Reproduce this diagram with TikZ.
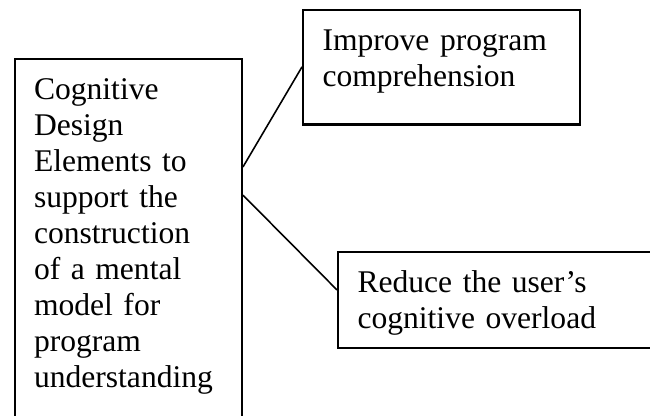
\documentclass[tikz,border=0pt]{standalone}
\usepackage{fontspec}
\setmainfont{Liberation Serif}
\usepackage{tikz}

\tikzset{
  textbox/.style={draw, line width=0.8pt, anchor=north west,
    inner xsep=7.4pt, inner ysep=0pt, align=left,
    font=\fontsize{12pt}{13.7pt}\selectfont},
  link/.style={line width=0.6pt}
}
\newcommand{\topgap}{\rule{0pt}{15.4pt}}
\newcommand{\botgap}[1]{\rule[-#1]{0pt}{0pt}}

\begin{document}
\begin{tikzpicture}[x=0.38pt,y=-0.38pt]
  \clip (0,0) rectangle (650,416);

  \node[textbox, text width=71.6pt] (cde) at (13.5,58)
    {\topgap Cognitive\\Design\\Elements to\\support the\\construction\\of a mental\\model for\\program\\understanding\botgap{16pt}};
  \node[textbox, text width=90.5pt] (improve) at (302,9)
    {\topgap Improve program\\comprehension\botgap{14.4pt}};
  \node[textbox, text width=110pt] (reduce) at (337,251)
    {\topgap Reduce the user’s\\cognitive overload\botgap{7.2pt}};

  % links from the left box
  \draw[link] ([yshift=-41.4pt]cde.north east) -- ([yshift=-22pt]improve.north west);
  \draw[link] ([yshift=-52.1pt]cde.north east) -- ([yshift=-14.8pt]reduce.north west);
\end{tikzpicture}
\end{document}
